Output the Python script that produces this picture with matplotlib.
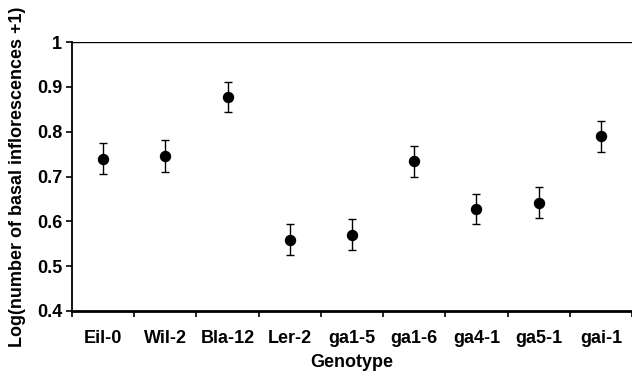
import numpy
import matplotlib
# Don't use X to display.
matplotlib.use('Agg')
import matplotlib.pyplot as pyplot

genotypes = ['Eil-0', 'Wil-2', 'Bla-12', 'Ler-2', 'ga1-5', 'ga1-6', 'ga4-1', 'ga5-1', 'gai-1']
means = [0.740, 0.746, 0.877, 0.559, 0.570, 0.734, 0.627, 0.642, 0.790]
errors = [0.035, 0.035, 0.034, 0.035, 0.035, 0.035, 0.033, 0.035, 0.035]
yticks = [0.4, 0.5, 0.6, 0.7, 0.8, 0.9, 1.0]
ytick_labels = ['0.4', '0.5', '0.6', '0.7', '0.8', '0.9', '1']

pyplot.rcParams['font.family'] = ['Liberation Sans', 'DejaVu Sans']
pyplot.rcParams['font.weight'] = 'bold'
FS = 13

fig = pyplot.figure(figsize=(6.32, 3.76), dpi=100)
ax = fig.add_axes([0.114, 0.173, 0.886, 0.715])

ind = numpy.arange(len(genotypes))
ax.errorbar(ind, means, yerr=errors, fmt='o', color='black', markersize=7.2,
            capsize=2.9, elinewidth=1.0, capthick=1.0)

ax.set_xlim(-0.5, len(genotypes) - 0.5)
ax.set_ylim(0.4, 1.0)
ax.axhline(1.0, color='black', linewidth=1.0)

# category labels centred, tick marks on the boundaries
ax.set_xticks(ind)
ax.set_xticklabels(genotypes, fontsize=FS, fontweight='bold')
ax.tick_params(axis='x', which='major', length=0, pad=14)
ax.set_xticks(numpy.arange(-0.5, len(genotypes), 1.0), minor=True)
ax.tick_params(axis='x', which='minor', length=4, width=1.2, direction='out')

ax.set_yticks(yticks)
ax.set_yticklabels(ytick_labels, fontsize=FS, fontweight='bold')
ax.tick_params(axis='y', length=4, width=1.2, direction='out', pad=3)

for side in ['top', 'right']:
    ax.spines[side].set_visible(False)
ax.spines['left'].set_linewidth(1.3)
ax.spines['bottom'].set_linewidth(2.0)

ax.set_xlabel('Genotype', fontsize=FS, fontweight='bold', labelpad=5)
ax.set_ylabel('Log(number of basal inflorescences +1)', fontsize=FS,
              fontweight='bold', labelpad=8)

pyplot.savefig('out.png', dpi=100)
